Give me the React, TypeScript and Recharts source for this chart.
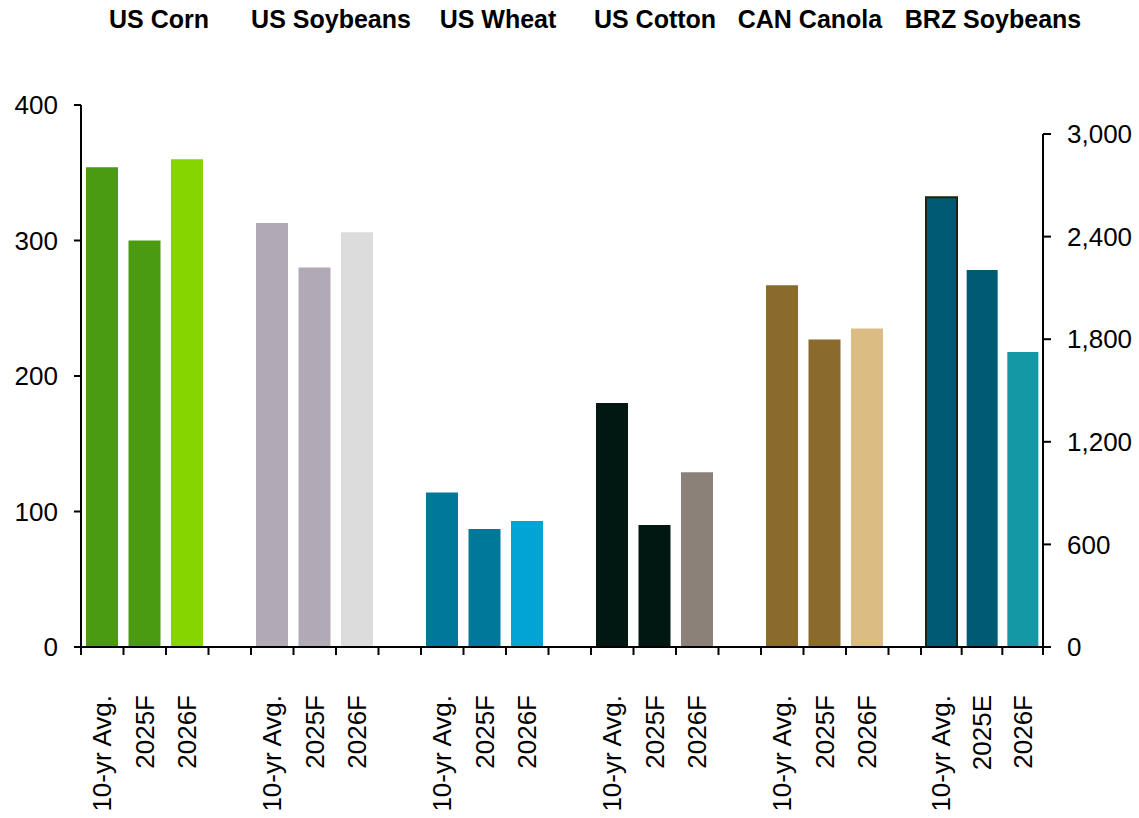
import { BarChart, Bar, XAxis, YAxis, Cell } from "recharts";

const groups = ["US Corn", "US Soybeans", "US Wheat", "US Cotton", "CAN Canola", "BRZ Soybeans"];
const usPeriods = ["10-yr Avg.", "2025F", "2026F"];
const brzPeriods = ["10-yr Avg.", "2025E", "2026F"];

// left axis (US + Canada), right axis (Brazil)
const usCorn = [354, 300, 360];
const usSoybeans = [313, 280, 306];
const usWheat = [114, 87, 93];
const usCotton = [180, 90, 129];
const canCanola = [267, 227, 235];
const brzSoybeans = [2630, 2205, 1725];

const leftTicks = [0, 100, 200, 300, 400];
const rightTicks = [0, 600, 1200, 1800, 2400, 3000];

const cornColors = ["#4a9a12", "#4a9a12", "#86d400"];
const soyColors = ["#b1a9b6", "#b1a9b6", "#dcdcdc"];
const wheatColors = ["#00789a", "#00789a", "#00a5d6"];
const cottonColors = ["#011812", "#011812", "#8b8179"];
const canolaColors = ["#8a6a2d", "#8a6a2d", "#dbbd84"];
const brzColors = ["#005a73", "#005a73", "#1399a6"];

const titleX = [159, 331, 498, 655, 810, 993];

const FONT = "'Liberation Sans', Arial, sans-serif";
const W = 1139;
const H = 818;
const AXIS_Y = 647;
const SLOT1 = 850 / 20;
const SLOT2 = 122 / 3;

const leftGroups = [
  { values: usCorn, colors: cornColors },
  { values: usSoybeans, colors: soyColors },
  { values: usWheat, colors: wheatColors },
  { values: usCotton, colors: cottonColors },
  { values: canCanola, colors: canolaColors },
];

const rowsLeft = leftGroups.flatMap((g, gi) => [
  ...g.values.map((v, i) => ({ key: `${gi}-${i}`, label: usPeriods[i], value: v, color: g.colors[i] })),
  { key: `${gi}-gap`, label: "", value: null as number | null, color: "none" },
]);

const rowsRight = brzSoybeans.map((v, i) => ({
  key: `brz-${i}`,
  label: brzPeriods[i],
  value: v,
  color: brzColors[i],
}));

function tickLabel(x: number, y: number, label: string) {
  if (!label) return null;
  const ty = y + 48;
  return (
    <text
      x={x}
      y={ty}
      transform={`rotate(-90, ${x}, ${ty})`}
      textAnchor="end"
      dominantBaseline="central"
      fontSize={26}
      fontFamily={FONT}
      fill="#000"
    >
      {label}
    </text>
  );
}

function LeftTick(props: any) {
  const { x, y, index } = props;
  const row = rowsLeft[index];
  const edge = x - SLOT1 / 2;
  return (
    <g>
      <line x1={edge} x2={edge} y1={y} y2={y + 8} stroke="#000" strokeWidth={2} />
      {tickLabel(x, y, row ? row.label : "")}
    </g>
  );
}

function RightTick(props: any) {
  const { x, y, index } = props;
  const row = rowsRight[index];
  const edge = x - SLOT2 / 2;
  return (
    <g>
      <line x1={edge} x2={edge} y1={y} y2={y + 8} stroke="#000" strokeWidth={2} />
      {index === rowsRight.length - 1 ? (
        <line x1={x + SLOT2 / 2} x2={x + SLOT2 / 2} y1={y} y2={y + 8} stroke="#000" strokeWidth={2} />
      ) : null}
      {tickLabel(x, y, row ? row.label : "")}
    </g>
  );
}

const axisTick = { fontSize: 26, fill: "#000", fontFamily: FONT };

export default function App() {
  return (
    <div style={{ position: "absolute", left: 0, top: 0, width: W, height: H, background: "#fff", fontFamily: FONT }}>
      {groups.map((g, i) => (
        <div
          key={g}
          style={{
            position: "absolute",
            left: titleX[i],
            top: 5,
            transform: "translateX(-50%)",
            whiteSpace: "nowrap",
            fontWeight: "bold",
            fontSize: 25,
            lineHeight: "28px",
            color: "#000",
          }}
        >
          {g}
        </div>
      ))}

      <div style={{ position: "absolute", left: 0, top: 0 }}>
        <BarChart width={940} height={H} data={rowsLeft} margin={{ top: 105, right: 9, bottom: 0, left: 0 }}>
          <XAxis
            dataKey="key"
            height={H - AXIS_Y}
            interval={0}
            tickLine={false}
            tickSize={0}
            tickMargin={0}
            axisLine={{ stroke: "#000", strokeWidth: 2 }}
            tick={<LeftTick />}
          />
          <YAxis
            width={81}
            domain={[0, 400]}
            ticks={leftTicks}
            tickSize={7}
            tickMargin={16}
            axisLine={{ stroke: "#000", strokeWidth: 2 }}
            tickLine={{ stroke: "#000", strokeWidth: 2 }}
            tick={axisTick}
          />
          <Bar dataKey="value" barSize={32} isAnimationActive={false}>
            {rowsLeft.map((r) => (
              <Cell key={r.key} fill={r.color} />
            ))}
          </Bar>
        </BarChart>
      </div>

      <div style={{ position: "absolute", left: 0, top: 0 }}>
        <BarChart width={W} height={H} data={rowsRight} margin={{ top: 134, right: 0, bottom: 0, left: 921 }}>
          <XAxis
            dataKey="key"
            height={H - AXIS_Y}
            interval={0}
            tickLine={false}
            tickSize={0}
            tickMargin={0}
            axisLine={{ stroke: "#000", strokeWidth: 2 }}
            tick={<RightTick />}
          />
          <YAxis
            orientation="right"
            width={96}
            domain={[0, 3000]}
            ticks={rightTicks}
            tickSize={8}
            tickMargin={16}
            tickFormatter={(v: number) => v.toLocaleString("en-US")}
            axisLine={{ stroke: "#000", strokeWidth: 2 }}
            tickLine={{ stroke: "#000", strokeWidth: 2 }}
            tick={axisTick}
          />
          <Bar dataKey="value" barSize={31} isAnimationActive={false}>
            {rowsRight.map((r, i) => (
              <Cell key={r.key} fill={r.color} stroke={i === 0 ? "#14280f" : "none"} strokeWidth={i === 0 ? 2 : 0} />
            ))}
          </Bar>
        </BarChart>
      </div>
    </div>
  );
}
